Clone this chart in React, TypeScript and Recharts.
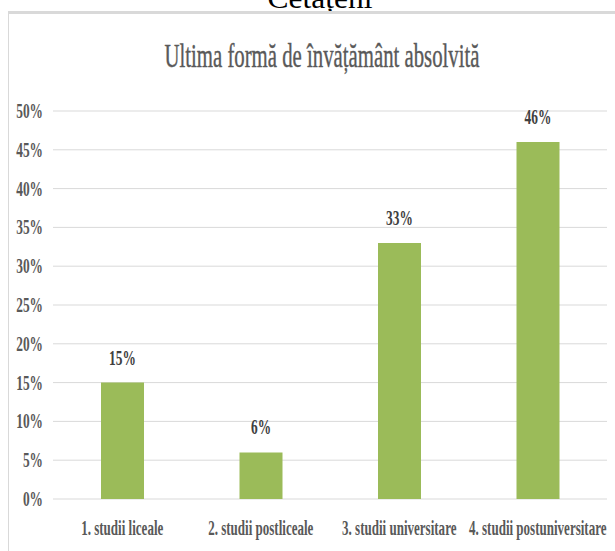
import { BarChart, Bar, XAxis, YAxis, CartesianGrid, LabelList } from "recharts";

const pageHeading = "Cetățeni";
const chartTitle = "Ultima formă de învățământ absolvită";
const categories = ["1. studii liceale", "2. studii postliceale", "3. studii universitare", "4. studii postuniversitare"];
const shares = [15, 6, 33, 46];
const yTicks = [0, 5, 10, 15, 20, 25, 30, 35, 40, 45, 50];

const data = categories.map((name, i) => ({ name, share: shares[i] }));

const FONT = "Liberation Serif, Tinos, Times New Roman, DejaVu Serif, serif";
const SQUEEZE = 0.67;

function YTick({ y, payload }: any) {
  return (
    <text
      transform={`translate(43,${y + 7}) scale(${SQUEEZE},1)`}
      textAnchor="end"
      style={{ fontFamily: FONT, fontWeight: 700, fontSize: 20 }}
      fill="#595959"
    >
      {payload.value}%
    </text>
  );
}

function XTick({ x, payload }: any) {
  return (
    <text
      transform={`translate(${x},535) scale(0.62,1)`}
      textAnchor="middle"
      style={{ fontFamily: FONT, fontWeight: 700, fontSize: 21 }}
      fill="#595959"
    >
      {payload.value}
    </text>
  );
}

function ValueLabel({ x, y, width, value }: any) {
  return (
    <text
      transform={`translate(${x + width / 2},${y - 18}) scale(${SQUEEZE},1)`}
      textAnchor="middle"
      style={{ fontFamily: FONT, fontWeight: 700, fontSize: 20 }}
      fill="#404040"
    >
      {value}%
    </text>
  );
}

export default function App() {
  return (
    <div style={{ position: "absolute", left: 0, top: 0, width: 615, height: 551, background: "#fff", overflow: "hidden" }}>
      <svg width={615} height={551} style={{ position: "absolute", left: 0, top: 0 }}>
        <text transform="translate(320,8) scale(1.05,1)" textAnchor="middle" style={{ fontFamily: FONT, fontSize: 30 }} fill="#000">
          {pageHeading}
        </text>
        <line x1={8} y1={12.5} x2={615} y2={12.5} stroke="#d9d9d9" strokeWidth={3} />
        <line x1={8.5} y1={12} x2={8.5} y2={551} stroke="#d9d9d9" strokeWidth={1} />
        <text transform="translate(322,67) scale(0.63,1)" textAnchor="middle" style={{ fontFamily: FONT, fontSize: 33 }} fill="#595959" stroke="#595959" strokeWidth={0.4}>
          {chartTitle}
        </text>
      </svg>
      <div style={{ position: "absolute", left: 0, top: 0 }}>
        <BarChart width={615} height={551} data={data} margin={{ top: 111, right: 8, bottom: 0, left: 0 }} barSize={43}>
          <CartesianGrid vertical={false} stroke="#d9d9d9" strokeWidth={1} />
          <XAxis dataKey="name" axisLine={false} tickLine={false} height={52} tick={<XTick />} interval={0} />
          <YAxis width={53} domain={[0, 50]} ticks={yTicks} axisLine={false} tickLine={false} tick={<YTick />} interval={0} />
          <Bar dataKey="share" fill="#9BBB59" isAnimationActive={false}>
            <LabelList dataKey="share" content={<ValueLabel />} />
          </Bar>
        </BarChart>
      </div>
    </div>
  );
}
